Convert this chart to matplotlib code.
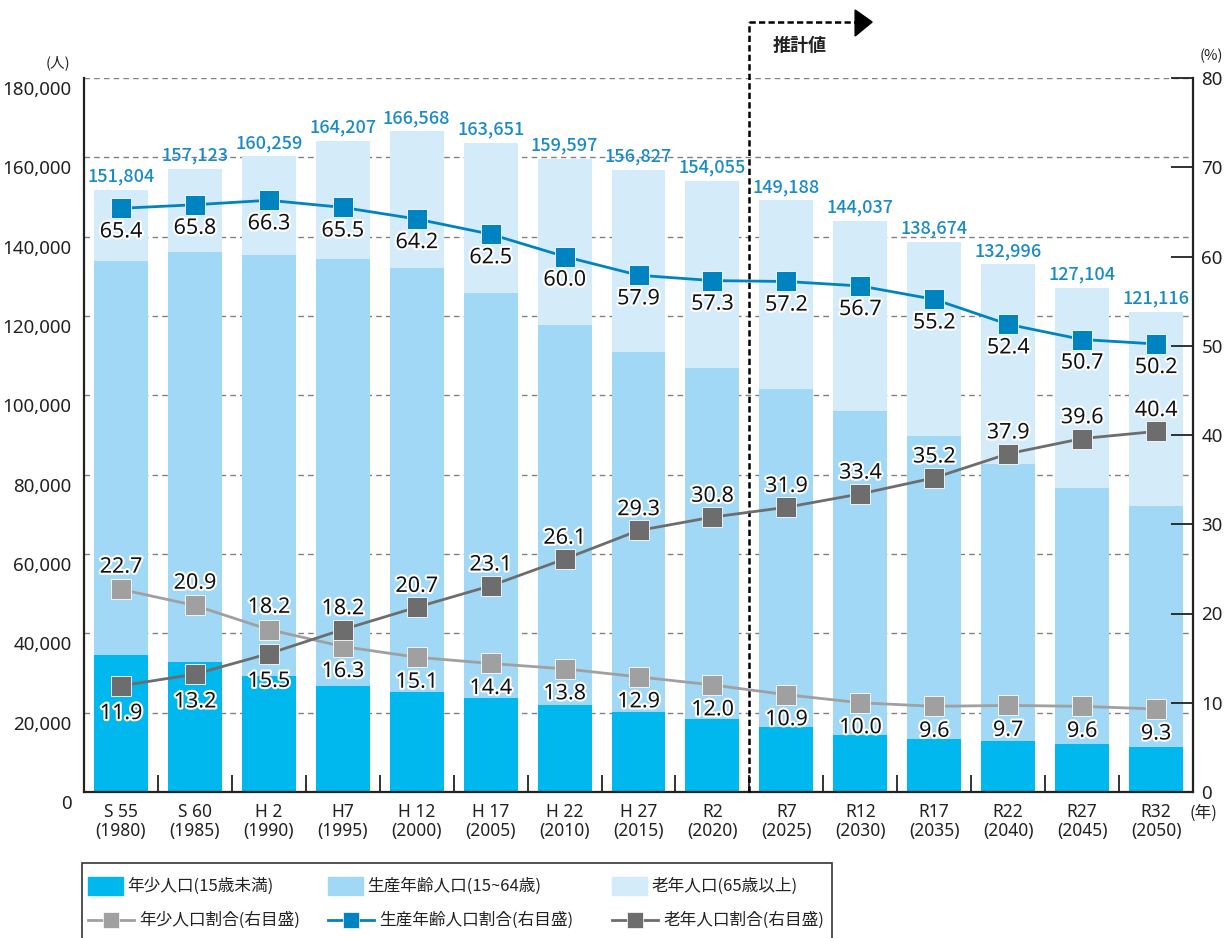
import matplotlib
matplotlib.use('Agg')
import matplotlib.pyplot as plt
from matplotlib import patheffects, transforms
from matplotlib.patches import Rectangle, Polygon
from matplotlib.lines import Line2D
from matplotlib.ticker import FuncFormatter
import numpy as np

plt.rcParams['font.family'] = ['Noto Sans', 'Noto Sans CJK JP', 'DejaVu Sans']
plt.rcParams['text.color'] = '#222222'
plt.rcParams['xtick.color'] = '#222222'
plt.rcParams['ytick.color'] = '#222222'

# data
era = ['S 55', 'S 60', 'H 2', 'H7', 'H 12', 'H 17', 'H 22', 'H 27', 'R2',
       'R7', 'R12', 'R17', 'R22', 'R27', 'R32']
years = [1980, 1985, 1990, 1995, 2000, 2005, 2010, 2015, 2020,
         2025, 2030, 2035, 2040, 2045, 2050]
totals = [151804, 157123, 160259, 164207, 166568, 163651, 159597, 156827,
          154055, 149188, 144037, 138674, 132996, 127104, 121116]
young_pop = [34500, 32800, 29200, 26800, 25200, 23600, 22000, 20200,
             18500, 16300, 14400, 13300, 12900, 12200, 11300]
working_pop = [99300, 103400, 106300, 107600, 106900, 102300, 95800, 90800,
               88300, 85300, 81700, 76500, 69700, 64400, 60800]
young_pct = [22.7, 20.9, 18.2, 16.3, 15.1, 14.4, 13.8, 12.9, 12.0,
             10.9, 10.0, 9.6, 9.7, 9.6, 9.3]
working_pct = [65.4, 65.8, 66.3, 65.5, 64.2, 62.5, 60.0, 57.9, 57.3,
               57.2, 56.7, 55.2, 52.4, 50.7, 50.2]
elderly_pct = [11.9, 13.2, 15.5, 18.2, 20.7, 23.1, 26.1, 29.3, 30.8,
               31.9, 33.4, 35.2, 37.9, 39.6, 40.4]

C_YOUNG = '#00b8ee'
C_WORK = '#a0d8f5'
C_OLD = '#d4ecf9'
L_YOUNG = '#a0a0a0'
L_WORK = '#0083c1'
L_OLD = '#6d6d6d'
C_TOTAL = '#1a8bc9'

W, H = 1227, 938
fig = plt.figure(figsize=(W / 100, H / 100), dpi=100)


def fx(px):
    return px / W


def fy(py):
    return 1 - py / H


ax = fig.add_axes([fx(84), fy(792), fx(1193) - fx(84), fy(78) - fy(792)])
x = np.arange(len(era))
young = np.array(young_pop)
working = np.array(working_pop)
total = np.array(totals)

bw = 0.73
ax.bar(x, young, width=bw, color=C_YOUNG, zorder=2)
ax.bar(x, working, bottom=young, width=bw, color=C_WORK, zorder=2)
ax.bar(x, total - young - working, bottom=young + working, width=bw,
       color=C_OLD, zorder=2)

ax.set_xlim(-0.5, len(era) - 0.5)
ax.set_ylim(0, 180000)
ax.set_yticks(np.arange(0, 180001, 20000))
ax.yaxis.set_major_formatter(FuncFormatter(lambda v, p: f'{int(v):,}'))
ax.grid(axis='y', color='#808080', linestyle=(0, (4, 3)), lw=1)
ax.set_axisbelow(True)
ax.tick_params(axis='y', length=0, pad=9, labelsize=13.5)
shift = transforms.ScaledTranslation(0, -0.10, fig.dpi_scale_trans)
for lab in ax.get_yticklabels():
    lab.set_transform(lab.get_transform() + shift)

ax.set_xticks(x)
ax.set_xticklabels([f'{e}\n({y})' for e, y in zip(era, years)],
                   fontsize=12.5, linespacing=1.05)
ax.tick_params(axis='x', length=0, pad=8)
ax.set_xticks(np.arange(0.5, len(era) - 1, 1), minor=True)
ax.tick_params(axis='x', which='minor', direction='in', length=12,
               width=1.3, color='#222222')
for s in ['top', 'right']:
    ax.spines[s].set_visible(False)
for s in ['left', 'bottom']:
    ax.spines[s].set_linewidth(1.6)
    ax.spines[s].set_color('#222222')

for xi, t in zip(x, totals):
    ax.annotate(f'{t:,}', (xi, t), xytext=(0, 3), textcoords='offset points',
                ha='center', va='bottom', color=C_TOTAL, fontsize=13,
                fontweight='medium', family=['Noto Sans CJK JP'], zorder=5)

# right axis with ratios
ax2 = ax.twinx()
ax2.set_ylim(0, 80)
ax2.set_yticks(np.arange(0, 81, 10))
ax2.tick_params(axis='y', direction='in', length=16, width=1.3, pad=6,
                labelsize=13.5, color='#222222')
for s in ['left', 'top', 'bottom']:
    ax2.spines[s].set_visible(False)
ax2.spines['right'].set_linewidth(1.6)
ax2.spines['right'].set_color('#222222')

mk = dict(marker='s', ms=15, mec='white', mew=0.6, lw=2, zorder=3)
ax2.plot(x, young_pct, color=L_YOUNG, **mk)
ax2.plot(x, working_pct, color=L_WORK, **mk)
ax2.plot(x, elderly_pct, color=L_OLD, **mk)

pe = [patheffects.withStroke(linewidth=3, foreground='white')]


def lab(xi, v, dy):
    t = ax2.annotate(f'{v:.1f}', (xi, v), xytext=(0, dy),
                     textcoords='offset points', ha='center', va='center',
                     fontsize=15.5, color='#111111', zorder=6)
    t.set_path_effects(pe)


for i in range(len(era)):
    lab(x[i], working_pct[i], -17)
    lab(x[i], young_pct[i], 16 if i < 3 else -18)
    lab(x[i], elderly_pct[i], -20 if i < 3 else 15)

# projection divider
bt = transforms.blended_transform_factory(ax.transData, ax.transAxes)
ytop = (792 - 22) / 714
ax.plot([8.5, 8.5], [0, ytop], transform=bt, color='black', lw=1.8,
        ls=(0, (2.5, 1.3)), clip_on=False, zorder=7)
ax.plot([8.5, 9.93], [ytop, ytop], transform=bt, color='black', lw=1.8,
        ls=(0, (2.5, 1.3)), clip_on=False, zorder=7)
ax.add_patch(Polygon([(9.93, (792 - 10) / 714), (10.16, ytop),
                      (9.93, (792 - 36) / 714)], closed=True,
                     transform=bt, color='black', clip_on=False, zorder=7))
ax.text(8.81, (792 - 45) / 714, '推計値', transform=bt, ha='left',
        va='center', fontsize=13, fontweight='bold',
        family=['Noto Sans CJK JP'])

fig.text(fx(58), fy(63), '(人)', ha='center', va='center', fontsize=10.5,
         family=['Noto Sans CJK JP'])
fig.text(fx(1211), fy(56), '(%)', ha='center', va='center', fontsize=10.5,
         family=['Noto Sans CJK JP'])
fig.text(fx(1203), fy(813), '(年)', ha='center', va='center', fontsize=12,
         family=['Noto Sans CJK JP'])

# legend
fig.add_artist(Rectangle((fx(82), fy(945)), fx(832) - fx(82), fy(863) - fy(945),
                         transform=fig.transFigure, fill=False,
                         edgecolor='#333333', lw=1.2))
bar_items = [(88, C_YOUNG, '年少人口(15歳未満)'),
             (328, C_WORK, '生産年齢人口(15~64歳)'),
             (612, C_OLD, '老年人口(65歳以上)')]
for px, c, t in bar_items:
    fig.add_artist(Rectangle((fx(px), fy(895)), fx(35), fy(877) - fy(895),
                             transform=fig.transFigure, color=c))
    fig.text(fx(px + 39), fy(886), t, ha='left', va='center', fontsize=12,
             family=['Noto Sans CJK JP'])
line_items = [(88, L_YOUNG, '年少人口割合(右目盛)'),
              (328, L_WORK, '生産年齢人口割合(右目盛)'),
              (612, L_OLD, '老年人口割合(右目盛)')]
for px, c, t in line_items:
    fig.add_artist(Line2D([fx(px), fx(px + 46)], [fy(920), fy(920)],
                          transform=fig.transFigure, color=c, lw=2))
    fig.add_artist(Line2D([fx(px + 23)], [fy(920)], transform=fig.transFigure,
                          color=c, marker='s', ms=12, mec='white', mew=0.5))
    fig.text(fx(px + 51), fy(920), t, ha='left', va='center', fontsize=12,
             family=['Noto Sans CJK JP'])

fig.savefig('out.png', dpi=100)
